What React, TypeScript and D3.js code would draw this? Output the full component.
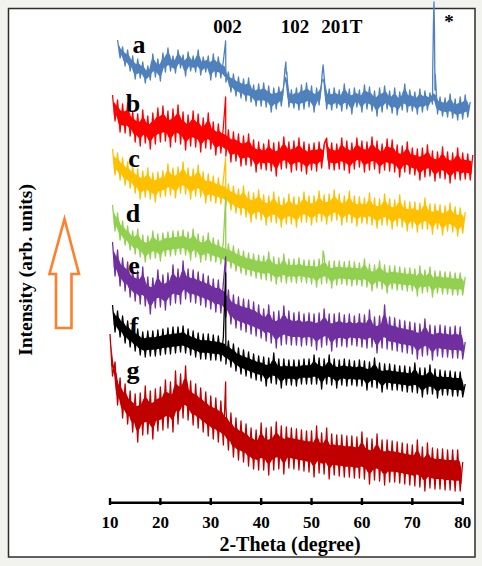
import { useEffect, useRef } from "react";
import * as d3 from "d3";

// 2-Theta grid step (degree) for every pattern
const STEP = 0.5;

// a: intensity read every 0.5 deg from 11.5
const aStart = 11.5;
const aValues = [
  462, 444, 455, 436, 452, 431, 446, 423, 443, 424,
  440, 419, 436, 422, 448, 425, 443, 421, 449, 430,
  454, 431, 446, 429, 452, 434, 447, 426, 450, 431,
  446, 430, 452, 427, 445, 430, 446, 422, 448, 425,
  445, 424, 441, 420, 430, 410, 428, 406, 425, 404,
  423, 401, 424, 400, 417, 396, 418, 396, 419, 395,
  416, 390, 414, 393, 415, 396, 418, 428, 395, 412,
  394, 414, 392, 417, 393, 419, 395, 416, 390, 414,
  397, 420, 425, 393, 413, 392, 414, 394, 412, 391,
  418, 393, 413, 388, 414, 395, 412, 390, 417, 393,
  415, 391, 411, 386, 414, 390, 416, 393, 411, 389,
  414, 387, 410, 392, 418, 390, 412, 391, 410, 388,
  413, 390, 411, 392, 409, 398, 412, 388, 405, 386,
  404, 385, 408, 384, 403, 382, 405, 383, 407, 385,
  400,
];
const aPeaks = [
  [32.95, 461], [44.7, 432], [44.9, 440], [45.1, 430],
  [52.1, 428], [52.3, 437], [52.5, 426],
  [74.05, 430], [74.2, 480], [74.3, 500], [74.4, 470], [74.55, 428],
];

// b
const bStart = 10.5;
const bValues = [
  407, 381, 402, 370, 398, 369, 399, 366, 391, 360,
  388, 356, 392, 359, 386, 353, 389, 358, 394, 360,
  396, 361, 391, 355, 393, 360, 397, 358, 390, 352,
  387, 356, 391, 355, 388, 350, 384, 354, 389, 353,
  380, 347, 378, 349, 375, 346, 372, 340, 370, 341,
  368, 336, 366, 337, 368, 336, 362, 330, 360, 333,
  358, 332, 362, 331, 359, 326, 360, 333, 365, 334,
  360, 330, 361, 332, 364, 331, 360, 328, 358, 332,
  359, 331, 360, 334, 358, 364, 333, 359, 332, 358,
  333, 364, 332, 361, 329, 359, 333, 364, 335, 361,
  330, 360, 332, 365, 333, 361, 329, 358, 332, 363,
  331, 362, 330, 357, 325, 356, 330, 360, 328, 354,
  327, 353, 322, 354, 325, 357, 326, 351, 321, 350,
  324, 355, 323, 350, 319, 349, 323, 354, 322, 349,
  323, 348, 322, 347,
];
const bPeaks = [[32.95, 405]];

// c
const cStart = 10.5;
const cValues = [
  353, 327, 349, 322, 344, 317, 340, 314, 336, 309,
  333, 303, 331, 305, 334, 303, 329, 300, 330, 305,
  331, 306, 338, 307, 334, 304, 335, 309, 340, 308,
  334, 303, 333, 306, 337, 305, 330, 299, 328, 301,
  326, 299, 324, 298, 322, 296, 318, 292, 316, 289,
  313, 287, 316, 285, 310, 280, 309, 283, 312, 282,
  307, 277, 306, 280, 310, 279, 305, 275, 304, 278,
  308, 278, 305, 275, 305, 280, 310, 280, 306, 277,
  306, 280, 311, 281, 307, 278, 308, 281, 312, 282,
  308, 277, 306, 280, 311, 279, 306, 276, 305, 279,
  304, 278, 309, 277, 304, 274, 303, 277, 308, 277,
  303, 273, 302, 276, 307, 275, 301, 271, 300, 274,
  300, 270, 299, 273, 304, 273, 298, 268, 298, 273,
  297, 267, 296, 271, 299, 270, 295, 266, 294, 269,
  290,
];
const cPeaks = [[32.95, 344]];

// d
const dStart = 10.5;
const dValues = [
  297, 271, 289, 262, 281, 257, 276, 252, 271, 248,
  273, 245, 267, 240, 266, 243, 271, 244, 268, 241,
  269, 246, 270, 246, 271, 247, 271, 248, 272, 247,
  270, 242, 273, 245, 268, 240, 266, 242, 269, 241,
  264, 240, 262, 238, 260, 235, 258, 234, 256, 231,
  253, 229, 251, 227, 249, 226, 248, 224, 247, 223,
  246, 222, 250, 221, 245, 218, 244, 220, 248, 219,
  243, 220, 243, 219, 244, 220, 242, 219, 242, 218,
  242, 215, 243, 218, 246, 219, 241, 214, 241, 217,
  241, 218, 240, 217, 241, 216, 240, 217, 239, 216,
  243, 215, 238, 211, 237, 214, 241, 213, 237, 209,
  236, 213, 236, 212, 235, 212, 234, 211, 234, 211,
  233, 206, 236, 209, 232, 210, 235, 205, 231, 209,
  231, 208, 230, 208, 230, 207, 229, 207, 229, 207,
  225,
];
const dPeaks = [[32.95, 305], [52.3, 251]];

// e
const eStart = 10.5;
const eValues = [
  260, 226, 252, 216, 244, 211, 240, 205, 233, 201,
  231, 198, 235, 196, 225, 188, 224, 194, 232, 195,
  227, 192, 229, 197, 237, 199, 233, 198, 241, 203,
  233, 200, 232, 199, 230, 197, 228, 195, 226, 193,
  223, 190, 222, 189, 219, 185, 212, 178, 207, 174,
  205, 172, 203, 170, 202, 168, 200, 166, 197, 164,
  193, 161, 197, 159, 190, 154, 191, 157, 196, 158,
  191, 157, 189, 157, 190, 156, 188, 157, 189, 156,
  188, 152, 189, 155, 193, 157, 188, 151, 188, 155,
  189, 156, 187, 155, 188, 157, 186, 156, 188, 155,
  187, 154, 192, 155, 185, 149, 186, 154, 197, 153,
  185, 152, 184, 151, 182, 150, 181, 149, 180, 148,
  179, 143, 178, 146, 183, 147, 177, 142, 176, 146,
  177, 145, 176, 145, 175, 144, 176, 144, 175, 143,
  160,
];
const ePeaks = [[32.95, 245]];

// f
const fStart = 10.5;
const fValues = [
  197, 170, 191, 165, 186, 159, 181, 155, 177, 151,
  173, 147, 170, 145, 171, 146, 171, 146, 172, 147,
  173, 148, 174, 148, 175, 149, 175, 150, 176, 149,
  173, 147, 171, 145, 169, 143, 168, 143, 168, 142,
  167, 142, 166, 141, 165, 138, 161, 135, 158, 131,
  154, 128, 152, 126, 150, 124, 148, 122, 146, 121,
  145, 116, 144, 119, 149, 118, 143, 114, 143, 117,
  142, 117, 142, 116, 142, 118, 143, 118, 143, 118,
  147, 118, 144, 113, 143, 118, 147, 117, 143, 114,
  142, 117, 143, 116, 142, 117, 141, 116, 142, 116,
  141, 112, 140, 115, 144, 114, 139, 110, 138, 113,
  138, 112, 137, 112, 136, 111, 136, 110, 135, 110,
  139, 109, 134, 105, 134, 108, 137, 108, 133, 104,
  132, 107, 131, 107, 131, 106, 130, 106, 130, 105,
  118,
];
const fPeaks = [[32.95, 229]];

// g
const gStart = 10;
const gValues = [
  168, 126, 140, 97, 124, 84, 118, 78, 111, 70,
  108, 60, 109, 67, 116, 68, 111, 63, 113, 71,
  115, 72, 122, 74, 120, 70, 131, 78, 128, 84,
  136, 82, 121, 77, 118, 74, 114, 70, 110, 66,
  106, 63, 104, 60, 101, 57, 95, 52, 89, 45,
  84, 42, 81, 40, 78, 36, 74, 33, 72, 32,
  79, 32, 74, 27, 75, 32, 80, 33, 76, 28,
  75, 34, 74, 33, 73, 32, 72, 31, 71, 30,
  71, 25, 76, 29, 69, 28, 74, 23, 68, 27,
  67, 26, 67, 25, 66, 25, 66, 24, 65, 24,
  70, 23, 64, 18, 63, 22, 68, 21, 62, 17,
  62, 20, 61, 20, 60, 19, 59, 18, 58, 17,
  57, 16, 62, 15, 55, 11, 59, 14, 54, 13,
  53, 13, 53, 12, 52, 12, 52, 11, 52, 11,
  40,
];
const gPeaks = [[32.95, 120]];

const xTicks = [10, 20, 30, 40, 50, 60, 70, 80];
const peakNames = ["002", "102", "201T", "*"];
const peakNamePos = [33.3, 46.7, 56.0, 77.3];

const series = [
  { name: "a", start: aStart, values: aValues, peaks: aPeaks, color: "#4f81bd", lx: 139, ly: 53 },
  { name: "b", start: bStart, values: bValues, peaks: bPeaks, color: "#ff0000", lx: 133, ly: 112 },
  { name: "c", start: cStart, values: cValues, peaks: cPeaks, color: "#ffc000", lx: 134, ly: 167 },
  { name: "d", start: dStart, values: dValues, peaks: dPeaks, color: "#92d050", lx: 133, ly: 222 },
  { name: "e", start: eStart, values: eValues, peaks: ePeaks, color: "#7030a0", lx: 134, ly: 274 },
  { name: "f", start: fStart, values: fValues, peaks: fPeaks, color: "#000000", lx: 134, ly: 335 },
  { name: "g", start: gStart, values: gValues, peaks: gPeaks, color: "#c00000", lx: 133, ly: 379 },
];

const W = 482;
const H = 566;
const FONT = "'Liberation Serif', 'Times New Roman', serif";
// share of the noise spread that is filled solid; the rest shows as spikes
const CORE = 0.5;

function build(start: number, values: number[], peaks: number[][]) {
  const pts = values.map((v, i) => [start + i * STEP, v]);
  return pts.concat(peaks).sort((p, q) => p[0] - q[0]);
}

// solid core of the noise band between neighbouring readings
function band(start: number, values: number[]) {
  const out: number[][] = [];
  for (let i = 0; i < values.length - 1; i++) {
    const a = values[i], b = values[i + 1];
    const mid = (a + b) / 2, half = (Math.abs(a - b) / 2) * CORE;
    out.push([start + (i + 0.5) * STEP, mid - half, mid + half]);
  }
  return out;
}

export default function App() {
  const svgRef = useRef<SVGSVGElement>(null);

  useEffect(() => {
    if (!svgRef.current) return;
    const svg = d3.select(svgRef.current);
    svg.selectAll("*").remove();

    // page + frame
    svg.append("rect").attr("width", W).attr("height", H).attr("fill", "#f2f2ee");
    svg.append("rect")
      .attr("x", 8.5).attr("y", 8.5)
      .attr("width", 466.5).attr("height", 548.5)
      .attr("fill", "#fff")
      .attr("stroke", "#2e2e2e")
      .attr("stroke-width", 1.5);

    const x = d3.scaleLinear().domain([10, 80]).range([110, 462.7]);
    const y = d3.scaleLinear().domain([0, 500]).range([502, 2]);

    const line = d3.line<number[]>()
      .x(d => x(d[0]))
      .y(d => y(d[1]));

    const area = d3.area<number[]>()
      .x(d => x(d[0]))
      .y0(d => y(d[1]))
      .y1(d => y(d[2]))
      .curve(d3.curveMonotoneX);

    series.forEach(s => {
      svg.append("path")
        .attr("d", area(band(s.start, s.values)))
        .attr("fill", s.color);
      svg.append("path")
        .attr("d", line(build(s.start, s.values, s.peaks)))
        .attr("fill", "none")
        .attr("stroke", s.color)
        .attr("stroke-width", 1.3)
        .attr("stroke-linejoin", "round");
    });

    // series letters
    series.forEach(s => {
      svg.append("text")
        .attr("x", s.lx).attr("y", s.ly)
        .attr("text-anchor", "middle")
        .attr("font-family", FONT)
        .attr("font-weight", "bold")
        .attr("font-size", 26)
        .attr("fill", "#000")
        .text(s.name);
    });

    // reflection labels
    peakNames.forEach((p, i) => {
      svg.append("text")
        .attr("x", x(peakNamePos[i]))
        .attr("y", p === "*" ? 28 : 33)
        .attr("text-anchor", "middle")
        .attr("font-family", FONT)
        .attr("font-weight", "bold")
        .attr("font-size", 19)
        .text(p);
    });

    // x axis
    const axis = svg.append("g");
    axis.append("line")
      .attr("x1", x(10)).attr("x2", x(80))
      .attr("y1", 502.8).attr("y2", 502.8)
      .attr("stroke", "#000").attr("stroke-width", 2.6);
    axis.selectAll("line.tick")
      .data(xTicks)
      .enter()
      .append("line")
      .attr("class", "tick")
      .attr("x1", d => x(d)).attr("x2", d => x(d))
      .attr("y1", 498).attr("y2", 505)
      .attr("stroke", "#000").attr("stroke-width", 2.4);
    axis.selectAll("text")
      .data(xTicks)
      .enter()
      .append("text")
      .attr("x", d => x(d))
      .attr("y", 528)
      .attr("text-anchor", "middle")
      .attr("font-family", FONT)
      .attr("font-weight", "bold")
      .attr("font-size", 17)
      .text(d => d);

    svg.append("text")
      .attr("x", 290).attr("y", 551)
      .attr("text-anchor", "middle")
      .attr("font-family", FONT)
      .attr("font-weight", "bold")
      .attr("font-size", 20)
      .text("2-Theta (degree)");

    svg.append("text")
      .attr("transform", "translate(32,270) rotate(-90)")
      .attr("text-anchor", "middle")
      .attr("font-family", FONT)
      .attr("font-weight", "bold")
      .attr("font-size", 19.5)
      .text("Intensity (arb. units)");

    // up arrow
    const arrow: [number, number][] = [
      [64.5, 219], [79, 274], [71.5, 274], [71.5, 328],
      [56, 328], [56, 274], [49.5, 274],
    ];
    svg.append("polygon")
      .attr("points", arrow.map(p => p.join(",")).join(" "))
      .attr("fill", "#fff")
      .attr("stroke", "#ff7f2a")
      .attr("stroke-width", 2.6)
      .attr("stroke-linejoin", "miter");
  }, []);

  return (
    <svg
      ref={svgRef}
      width={W}
      height={H}
      style={{ position: "absolute", left: 0, top: 0 }}
    />
  );
}
